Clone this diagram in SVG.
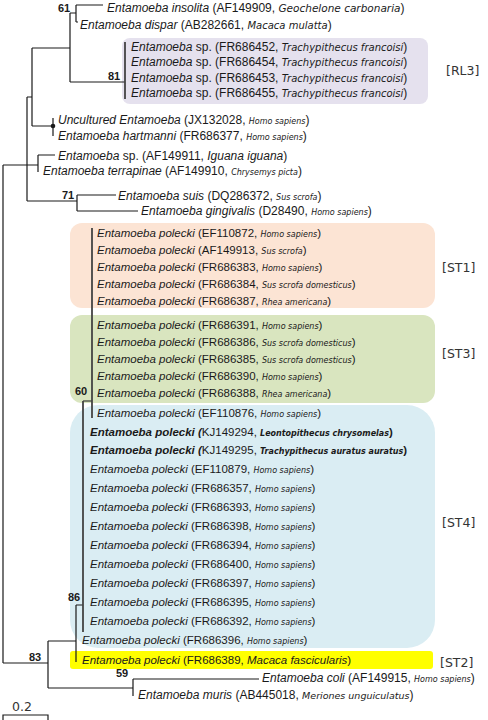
<svg xmlns="http://www.w3.org/2000/svg" width="488" height="720" viewBox="0 0 488 720">
<style>
.t{font-family:"Liberation Sans",Arial,sans-serif;font-size:11.5px;fill:#1a1a1a}
.u{font-family:"Liberation Sans",Arial,sans-serif;font-size:12px;fill:#1a1a1a}
.g{font-style:italic}
.h{font-family:"DejaVu Sans",sans-serif;font-size:8px;font-style:italic}
.k{font-family:"DejaVu Sans",sans-serif;font-size:10px;font-style:italic}
.bd{font-weight:bold}
.n{font-family:"Liberation Sans",Arial,sans-serif;font-size:11px;font-weight:bold;fill:#1a1a1a}
.c{font-family:"DejaVu Sans",sans-serif;font-size:12.5px;fill:#333}
.e{stroke:#1a1a1a;stroke-width:1.2;fill:none}
.m{stroke:#444;stroke-width:1.8;fill:none}
</style>
<rect width="488" height="720" fill="#fff"/>
<g id="clades">
<rect id="box-RL3" x="122" y="38" width="306" height="66" rx="8" fill="#e5e1ee"/>
<rect id="box-ST1" x="70" y="223" width="365" height="85" rx="12" fill="#fce4d4"/>
<rect id="box-ST3" x="70" y="315" width="365" height="88" rx="12" fill="#d9e5bf"/>
<rect id="box-ST4" x="70" y="405" width="365" height="243" rx="28" fill="#daedf3"/>
<rect id="box-ST2" x="70" y="651" width="363" height="18" rx="3" fill="#ffff00"/>
</g>
<g id="connectors">
<path class="e" d="M3,165V663M3,165H38M3,663H48M27,97V201M27,97H32M27,201H77M32,48V126M32,48H70M32,126H53M70,13V82M70,13H76M76,5V22M76,5H103M76,22H78M70,82H125M53,118V136M38,155V172M38,155H55M77,195V211M77,195H116M77,211H138M83,401H92M76,605H83M76,605V662M48,641V688M48,641H76M48,688H133M133,679V696M133,679H259"/>
<circle cx="53" cy="126" r="2.3" fill="#1a1a1a"/>
<path class="m" d="M125,42V99M92,228V418M83,401V632"/>
</g>
<g id="support">
<text class="n" x="58" y="12">61</text>
<text class="n" x="108" y="80">81</text>
<text class="n" x="62" y="199">71</text>
<text class="n" x="75" y="395">60</text>
<text class="n" x="68" y="601">86</text>
<text class="n" x="29" y="661">83</text>
<text class="n" x="116" y="677">59</text>
</g>
<g id="leaf-insolita"><text class="u" x="107" y="12"><tspan class="g">Entamoeba insolita</tspan> (AF149909, <tspan class="k" style="font-size:10.5px">Geochelone carbonaria</tspan>)</text></g>
<g id="leaf-dispar"><text class="u" x="80" y="29"><tspan class="g">Entamoeba dispar</tspan> (AB282661, <tspan class="k">Macaca mulatta</tspan>)</text></g>
<g id="leaf-FR686452"><text class="u" x="131" y="51"><tspan class="g">Entamoeba</tspan> sp. (FR686452, <tspan class="k">Trachypithecus francoisi</tspan>)</text></g>
<g id="leaf-FR686454"><text class="u" x="131" y="66"><tspan class="g">Entamoeba</tspan> sp. (FR686454, <tspan class="k">Trachypithecus francoisi</tspan>)</text></g>
<g id="leaf-FR686453"><text class="u" x="131" y="82"><tspan class="g">Entamoeba</tspan> sp. (FR686453, <tspan class="k">Trachypithecus francoisi</tspan>)</text></g>
<g id="leaf-FR686455"><text class="u" x="131" y="97"><tspan class="g">Entamoeba</tspan> sp. (FR686455, <tspan class="k">Trachypithecus francoisi</tspan>)</text></g>
<g id="label-RL3"><text class="c" x="446" y="75">[RL3]</text></g>
<g id="leaf-JX132028"><text class="u" x="58" y="124"><tspan class="g">Uncultured Entamoeba</tspan> (JX132028, <tspan class="h">Homo sapiens</tspan>)</text></g>
<g id="leaf-FR686377"><text class="u" x="58" y="140"><tspan class="g">Entamoeba hartmanni</tspan> (FR686377, <tspan class="h">Homo sapiens</tspan>)</text></g>
<g id="leaf-AF149911"><text class="u" x="58" y="160"><tspan class="g">Entamoeba</tspan> sp. (AF149911, <tspan class="g">Iguana iguana</tspan>)</text></g>
<g id="leaf-AF149910"><text class="u" x="43" y="175"><tspan class="g">Entamoeba terrapinae</tspan> (AF149910, <tspan class="h">Chrysemys picta</tspan>)</text></g>
<g id="leaf-DQ286372"><text class="u" x="118" y="200"><tspan class="g">Entamoeba suis</tspan> (DQ286372, <tspan class="h">Sus scrofa</tspan>)</text></g>
<g id="leaf-D28490"><text class="u" x="141" y="215"><tspan class="g">Entamoeba gingivalis</tspan> (D28490, <tspan class="h">Homo sapiens</tspan>)</text></g>
<g id="leaf-EF110872"><text class="t" x="97" y="237"><tspan class="g">Entamoeba polecki</tspan> (EF110872, <tspan class="h">Homo sapiens</tspan>)</text></g>
<g id="leaf-AF149913"><text class="t" x="97" y="254"><tspan class="g">Entamoeba polecki</tspan> (AF149913, <tspan class="h">Sus scrofa</tspan>)</text></g>
<g id="leaf-FR686383"><text class="t" x="97" y="271"><tspan class="g">Entamoeba polecki</tspan> (FR686383, <tspan class="h">Homo sapiens</tspan>)</text></g>
<g id="leaf-FR686384"><text class="t" x="97" y="288"><tspan class="g">Entamoeba polecki</tspan> (FR686384, <tspan class="h">Sus scrofa domesticus</tspan>)</text></g>
<g id="leaf-FR686387"><text class="t" x="97" y="305"><tspan class="g">Entamoeba polecki</tspan> (FR686387, <tspan class="h">Rhea americana</tspan>)</text></g>
<g id="label-ST1"><text class="c" x="442" y="272">[ST1]</text></g>
<g id="leaf-FR686391"><text class="t" x="97" y="329"><tspan class="g">Entamoeba polecki</tspan> (FR686391, <tspan class="h">Homo sapiens</tspan>)</text></g>
<g id="leaf-FR686386"><text class="t" x="97" y="346"><tspan class="g">Entamoeba polecki</tspan> (FR686386, <tspan class="h">Sus scrofa domesticus</tspan>)</text></g>
<g id="leaf-FR686385"><text class="t" x="97" y="363"><tspan class="g">Entamoeba polecki</tspan> (FR686385, <tspan class="h">Sus scrofa domesticus</tspan>)</text></g>
<g id="leaf-FR686390"><text class="t" x="97" y="380"><tspan class="g">Entamoeba polecki</tspan> (FR686390, <tspan class="h">Homo sapiens</tspan>)</text></g>
<g id="leaf-FR686388"><text class="t" x="97" y="397"><tspan class="g">Entamoeba polecki</tspan> (FR686388, <tspan class="h">Rhea americana</tspan>)</text></g>
<g id="label-ST3"><text class="c" x="442" y="358">[ST3]</text></g>
<g id="leaf-EF110876"><text class="t" x="97" y="417"><tspan class="g">Entamoeba polecki</tspan> (EF110876, <tspan class="h">Homo sapiens</tspan>)</text></g>
<g id="leaf-KJ149294"><text class="t" x="90" y="436"><tspan class="g bd">Entamoeba polecki (</tspan>KJ149294, <tspan class="h bd">Leontopithecus chrysomelas</tspan><tspan class="bd">)</tspan></text></g>
<g id="leaf-KJ149295"><text class="t" x="90" y="454"><tspan class="g bd">Entamoeba polecki (</tspan>KJ149295, <tspan class="h bd">Trachypithecus auratus auratus</tspan><tspan class="bd">)</tspan></text></g>
<g id="leaf-EF110879"><text class="t" x="90" y="473"><tspan class="g">Entamoeba polecki</tspan> (EF110879, <tspan class="h">Homo sapiens</tspan>)</text></g>
<g id="leaf-FR686357"><text class="t" x="90" y="492"><tspan class="g">Entamoeba polecki</tspan> (FR686357, <tspan class="h">Homo sapiens</tspan>)</text></g>
<g id="leaf-FR686393"><text class="t" x="90" y="511"><tspan class="g">Entamoeba polecki</tspan> (FR686393, <tspan class="h">Homo sapiens</tspan>)</text></g>
<g id="leaf-FR686398"><text class="t" x="90" y="530"><tspan class="g">Entamoeba polecki</tspan> (FR686398, <tspan class="h">Homo sapiens</tspan>)</text></g>
<g id="leaf-FR686394"><text class="t" x="90" y="549"><tspan class="g">Entamoeba polecki</tspan> (FR686394, <tspan class="h">Homo sapiens</tspan>)</text></g>
<g id="leaf-FR686400"><text class="t" x="90" y="568"><tspan class="g">Entamoeba polecki</tspan> (FR686400, <tspan class="h">Homo sapiens</tspan>)</text></g>
<g id="leaf-FR686397"><text class="t" x="90" y="587"><tspan class="g">Entamoeba polecki</tspan> (FR686397, <tspan class="h">Homo sapiens</tspan>)</text></g>
<g id="leaf-FR686395"><text class="t" x="90" y="606"><tspan class="g">Entamoeba polecki</tspan> (FR686395, <tspan class="h">Homo sapiens</tspan>)</text></g>
<g id="leaf-FR686392"><text class="t" x="90" y="625"><tspan class="g">Entamoeba polecki</tspan> (FR686392, <tspan class="h">Homo sapiens</tspan>)</text></g>
<g id="label-ST4"><text class="c" x="442" y="527">[ST4]</text></g>
<g id="leaf-FR686396"><text class="t" x="82" y="644"><tspan class="g">Entamoeba polecki</tspan> (FR686396, <tspan class="h">Homo sapiens</tspan>)</text></g>
<g id="leaf-FR686389"><text class="t" x="82" y="664"><tspan class="g">Entamoeba polecki</tspan> (FR686389, <tspan class="g">Macaca fascicularis</tspan>)</text></g>
<g id="label-ST2"><text class="c" x="440" y="667">[ST2]</text></g>
<g id="leaf-AF149915"><text class="u" x="262" y="682"><tspan class="g">Entamoeba coli</tspan> (AF149915, <tspan class="h">Homo sapiens</tspan>)</text></g>
<g id="leaf-AB445018"><text class="u" x="138" y="699"><tspan class="g">Entamoeba muris</tspan> (AB445018, <tspan class="h" style="font-size:9.5px">Meriones unguiculatus</tspan>)</text></g>
<g id="scale">
<text class="c" x="12" y="711">0.2</text>
<path class="e" d="M3,720V715H48V720"/>
</g>
</svg>
